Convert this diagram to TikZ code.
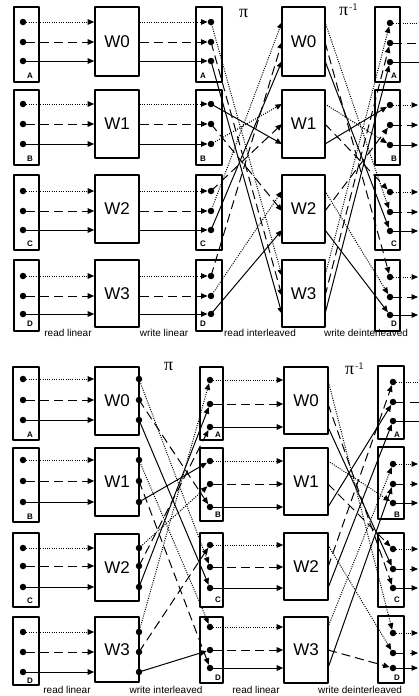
\documentclass[tikz,border=0pt]{standalone}
\usepackage{fontspec}
\setmainfont{Liberation Sans}
\newfontfamily\pifont{Liberation Serif}
\usetikzlibrary{arrows.meta}
\begin{document}
\begin{tikzpicture}[x=1pt,y=-1pt,line join=round,
  membox/.style={draw,line width=1.2pt,inner sep=0pt},
  wbox/.style={draw,line width=1.6pt,inner sep=0pt,font=\fontsize{17}{17}\selectfont},
  dotn/.style={circle,fill,inner sep=0pt,minimum size=6.5pt},
  wire/.style={line width=1pt,-{Triangle[length=6.5pt,width=5.5pt]}},
  w0/.style={wire,dash pattern=on 1pt off 1.3pt},
  w1/.style={wire,dash pattern=on 9pt off 5pt},
  w2/.style={wire},
  lbl/.style={font=\fontsize{10}{10}\selectfont,inner sep=0pt},
  blk/.style={font=\bfseries\fontsize{8}{8}\selectfont,inner sep=0pt},
  pil/.style={font=\pifont\fontsize{18}{18}\selectfont,inner sep=0pt,anchor=base west}]
\useasboundingbox (0,0) rectangle (419,696);

% ================= TOP HALF =================
\foreach \b/\cy/\h/\lt/\ly in {0/44.5/75/A/76,1/127.5/75/B/159,2/212.5/75/C/244,3/295.5/71/D/324}{
  \node[membox,minimum width=25pt,minimum height=\h pt] (tm1-\b) at (26.5,\cy) {};
  \node[membox,minimum width=26pt,minimum height=\h pt] (tm2-\b) at (209,\cy) {};
  \node[membox,minimum width=25pt,minimum height=\h pt] (tm4-\b) at (387.5,\cy) {};
  \node[blk] (tl1-\b) at (30,\ly) {\lt};
  \node[blk] (tl2-\b) at (203,\ly) {\lt};
  \node[blk] (tl4-\b) at (394,\ly) {\lt};
}
\foreach \b/\cy/\h in {0/41.5/69,1/124/68,2/209/68,3/293.5/67}{
  \node[wbox,minimum width=44pt,minimum height=\h pt] (tw1-\b) at (117,\cy) {W\b};
  \node[wbox,minimum width=43pt,minimum height=\h pt] (tw3-\b) at (303.5,\cy) {W\b};
}
\foreach \b/\ya/\yb/\yc/\ex in {0/22/42/61/430,1/104/124/144/418,2/191/211/230/418,3/276/296/314/418}{
  \foreach \j/\y in {0/\ya,1/\yb,2/\yc}{
    \node[dotn] (t1-\b-\j) at (23,\y) {};
    \node[dotn] (t2-\b-\j) at (211,\y) {};
    \node[dotn] (t4-\b-\j) at (390,\y+1) {};
    \coordinate (tp-\b-\j) at (282,\y);
    \coordinate (tq-\b-\j) at (325,\y);
    \coordinate (te-\b-\j) at (\ex,\y+1);
    \draw[w\j] (t1-\b-\j) -- (t1-\b-\j -| tw1-\b.west);
    \draw[w\j] (t1-\b-\j -| tw1-\b.east) -- (t2-\b-\j);
    \draw[w\j] (t4-\b-\j) -- (te-\b-\j);
  }
}
% pi (read interleaved) and pi^-1 (write deinterleaved)
\foreach \b/\j/\sb/\sj in {0/0/2/1,0/1/3/0,0/2/2/2,1/0/1/2,1/1/2/0,1/2/1/0,
                          2/0/3/1,2/1/1/1,2/2/3/2,3/0/0/0,3/1/0/1,3/2/0/2}{
  \draw[w\j] (t2-\sb-\sj.center) -- (tp-\b-\j);
  \draw[w\j] (tq-\b-\j) -- (t4-\sb-\sj);
}
\node[pil] (tpi) at (239,17) {π};
\node[pil] (tpiinv) at (339,15) {π\raisebox{5pt}{\sffamily\fontsize{10}{10}\selectfont\kern1pt -1}};
\node[lbl] (tr1) at (68,333) {read linear};
\node[lbl] (tr2) at (164,333) {write linear};
\node[lbl] (tr3) at (260,333) {read interleaved};
\node[lbl] (tr4) at (366,333) {write deinterleaved};

% ================= BOTTOM HALF =================
\foreach \b/\cy/\h/\lt/\ly in {0/403.5/73/A/435,1/485/74/B/517,2/570/74/C/601,3/651/68/D/681}{
  \node[membox,minimum width=26pt,minimum height=\h pt] (bm1-\b) at (26,\cy) {};
  \node[blk] (bl1-\b) at (30,\ly) {\lt};
}
\foreach \b/\cy/\h/\lt/\ly in {0/403.5/73/A/435,1/484.5/73/B/515,2/570/74/C/600,3/650/66/D/678}{
  \node[membox,minimum width=23pt,minimum height=\h pt] (bm2-\b) at (211.5,\cy) {};
  \node[blk] (bl2-\b) at (218,\ly) {\lt};
}
\foreach \b/\cy/\h/\lt/\ly in {0/402.5/73/A/435,1/483/72/B/515,2/570/74/C/600,3/649.5/67/D/678}{
  \node[membox,minimum width=26pt,minimum height=\h pt] (bm4-\b) at (391,\cy) {};
  \node[blk] (bl4-\b) at (397,\ly) {\lt};
}
\foreach \b/\cy/\h/\cz/\hz in {0/401/68/400.5/67,1/482/68/481.5/67,2/567.5/67/566.5/67,3/649.5/65/650/66}{
  \node[wbox,minimum width=44pt,minimum height=\h pt] (bw1-\b) at (117,\cy) {W\b};
  \node[wbox,minimum width=44pt,minimum height=\hz pt] (bw3-\b) at (306,\cz) {W\b};
}
\foreach \b/\ya/\yb/\yc/\za/\zb/\zc/\ua/\ub/\uc/\ex in
   {0/379/400/420/380/404/427/382/402/421/430,
    1/460/481/502/461/484/507/464/484/503/418,
    2/548/566/587/545/567/588/549/569/588/418,
    3/632/652/672/627/650/668/633/653/668/418}{
  \foreach \j/\y/\z/\u in {0/\ya/\za/\ua,1/\yb/\zb/\ub,2/\yc/\zc/\uc}{
    \node[dotn] (b1-\b-\j) at (23,\y) {};
    \node[dotn] (bw-\b-\j) at (139,\y) {};
    \node[dotn] (b2-\b-\j) at (210,\z) {};
    \node[dotn] (b4-\b-\j) at (393,\u) {};
    \coordinate (bq-\b-\j) at (328,\z);
    \coordinate (be-\b-\j) at (\ex,\u);
    \draw[w\j] (b1-\b-\j) -- (b1-\b-\j -| bw1-\b.west);
    \draw[w\j] (b2-\b-\j) -- (b2-\b-\j -| bw3-\b.west);
    \draw[w\j] (b4-\b-\j) -- (be-\b-\j);
  }
}
% pi (write interleaved) and pi^-1 (write deinterleaved)
\foreach \k/\j/\m/\jj in {0/0/2/1,0/1/1/2,0/2/2/2,1/0/3/0,1/1/3/2,1/2/1/0,
                         2/0/1/1,2/1/0/2,2/2/0/1,3/0/0/0,3/1/2/0,3/2/3/1}{
  \draw[w\j] (bw-\k-\j.center) -- (b2-\m-\jj);
  \draw[w\jj] (bq-\m-\jj) -- (b4-\k-\j);
}
\node[pil] (bpi) at (164,370) {π};
\node[pil] (bpiinv) at (345,374) {π\raisebox{5pt}{\sffamily\fontsize{10}{10}\selectfont\kern1pt -1}};
\node[lbl] (br1) at (67,690) {read linear};
\node[lbl] (br2) at (166,690) {write interleaved};
\node[lbl] (br3) at (256,690) {read linear};
\node[lbl] (br4) at (360,690) {write deinterleaved};
\end{tikzpicture}
\end{document}
